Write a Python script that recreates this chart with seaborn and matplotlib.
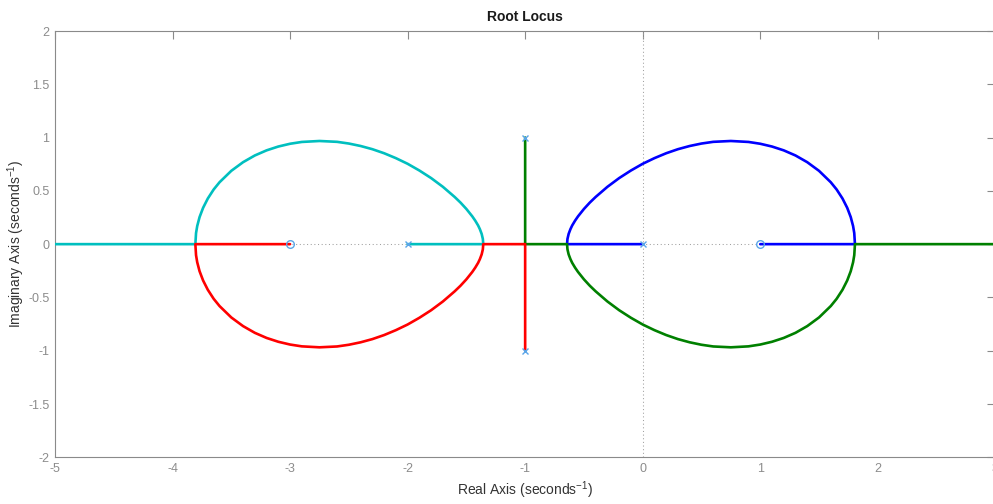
import matplotlib
matplotlib.use("Agg")
import matplotlib.pyplot as plt
import seaborn as sns

# Open-loop poles and zeros of the loop transfer function
pole_re = [-2.0, 0.0, -1.0, -1.0]
pole_im = [0.0, 0.0, 1.0, -1.0]
zero_re = [-3.0, 1.0]
zero_im = [0.0, 0.0]

# Complex arcs of the locus (upper halves; the lower halves are their conjugates)
right_arc_re = [-0.6436, -0.64, -0.63, -0.615, -0.60, -0.575, -0.55, -0.50, -0.45, -0.40,
                -0.30, -0.20, -0.10, 0.00, 0.10, 0.20, 0.30, 0.40, 0.50, 0.60,
                0.75, 0.90, 1.00, 1.10, 1.20, 1.30, 1.40, 1.50, 1.60, 1.65,
                1.70, 1.74, 1.77, 1.79, 1.80, 1.8059]
left_arc_re = [-1.3564, -1.36, -1.37, -1.385, -1.40, -1.425, -1.45, -1.50, -1.55, -1.60,
               -1.70, -1.80, -1.90, -2.00, -2.10, -2.20, -2.30, -2.40, -2.50, -2.60,
               -2.75, -2.90, -3.00, -3.10, -3.20, -3.30, -3.40, -3.50, -3.60, -3.65,
               -3.70, -3.74, -3.77, -3.79, -3.80, -3.8059]
arc_im = [0.0, 0.049, 0.096, 0.140, 0.175, 0.221, 0.261, 0.330, 0.390, 0.443,
          0.538, 0.620, 0.691, 0.754, 0.807, 0.853, 0.891, 0.921, 0.944, 0.960,
          0.968, 0.959, 0.942, 0.916, 0.880, 0.832, 0.769, 0.688, 0.581, 0.513,
          0.428, 0.341, 0.254, 0.170, 0.104, 0.0]

# Plot window
x_limits = [-5.0, 3.0]
y_limits = [-2.0, 2.0]
x_ticks = [-5, -4, -3, -2, -1, 0, 1, 2, 3]
y_ticks = [-2, -1.5, -1, -0.5, 0, 0.5, 1, 1.5, 2]

# Branches, each traced from its starting pole
blue_re = [pole_re[1]] + right_arc_re + [zero_re[1]]
blue_im = [pole_im[1]] + arc_im + [zero_im[1]]
green_re = [pole_re[2], -1.0] + right_arc_re + [x_limits[1]]
green_im = [pole_im[2], 0.0] + [-v for v in arc_im] + [0.0]
red_re = [pole_re[3], -1.0] + left_arc_re + [zero_re[0]]
red_im = [pole_im[3], 0.0] + [-v for v in arc_im] + [zero_im[0]]
cyan_re = [pole_re[0]] + left_arc_re + [x_limits[0]]
cyan_im = [pole_im[0]] + arc_im + [0.0]

sns.set_theme(style="white")
plt.rcParams["font.family"] = ["Liberation Sans", "DejaVu Sans"]
plt.rcParams["mathtext.fontset"] = "custom"
plt.rcParams["mathtext.rm"] = "Liberation Sans"
plt.rcParams["mathtext.it"] = "Liberation Sans:italic"
plt.rcParams["mathtext.bf"] = "Liberation Sans:bold"

fig = plt.figure(figsize=(9.93, 5.04), dpi=100)
ax = fig.add_axes([0.05539, 0.09266, 0.94693, 0.84583])

# Dotted reference axes through the origin
ax.axhline(0, color="#a0a0a0", lw=0.75, ls=(0, (1, 2.5)), zorder=1)
ax.axvline(0, color="#a0a0a0", lw=0.75, ls=(0, (1, 2.5)), zorder=1)

branches = [
    (blue_re, blue_im, "#0000ff"),
    (cyan_re, cyan_im, "#00bfbf"),
    (green_re, green_im, "#008000"),
    (red_re, red_im, "#ff0000"),
]
for i, (bx, by, col) in enumerate(branches):
    sns.lineplot(x=bx, y=by, sort=False, estimator=None, color=col, lw=1.9,
                 ax=ax, zorder=3 + i)

marker_col = "#5aa5e8"
ax.plot(pole_re, pole_im, ls="none", marker="x", ms=5.0, mew=1.0,
        color=marker_col, zorder=10)
ax.plot(zero_re, zero_im, ls="none", marker="o", ms=5.5, mew=1.0,
        mfc="none", mec=marker_col, zorder=10)

ax.set_xlim(x_limits)
ax.set_ylim(y_limits)
ax.set_xticks(x_ticks)
ax.set_yticks(y_ticks)
ax.set_xticklabels([f"{t:g}" for t in x_ticks])
ax.set_yticklabels([f"{t:g}" for t in y_ticks])

spine_col = "#8a8a8a"
for sp in ax.spines.values():
    sp.set_visible(True)
    sp.set_color(spine_col)
    sp.set_linewidth(0.8)

ax.tick_params(direction="in", length=5.5, width=0.8, top=True, right=True,
               color=spine_col, labelcolor="#8c8c8c", labelsize=9, pad=4)

ax.set_title("Root Locus", fontsize=10, fontweight="bold", color="#1a1a1a", pad=7)
ax.set_xlabel("Real Axis (seconds$^{-1}$)", fontsize=10, color="#333333", labelpad=3)
ax.set_ylabel("Imaginary Axis (seconds$^{-1}$)", fontsize=10, color="#333333", labelpad=1)

fig.savefig("out.png", dpi=100)
